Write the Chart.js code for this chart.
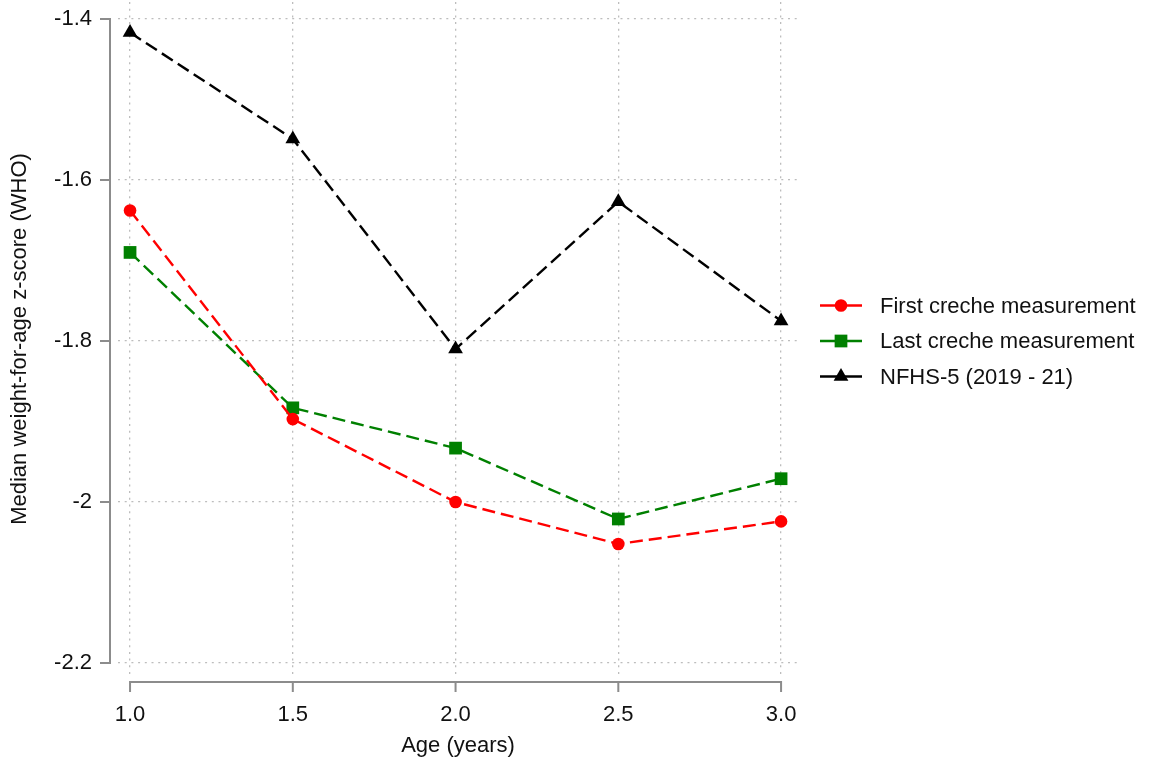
<!DOCTYPE html>
<html>
<head>
<meta charset="utf-8">
<script src="https://cdn.jsdelivr.net/npm/chart.js@4"></script>
<style>
  html, body { margin: 0; padding: 0; background: #fff; }
  #wrap { width: 1149px; height: 761px; }
</style>
</head>
<body>
<div id="wrap"><canvas id="myChart" width="1149" height="761"></canvas></div>
<script>
// data
var ages = [1.0, 1.5, 2.0, 2.5, 3.0];
var firstCreche = [-1.638, -1.897, -2.000, -2.052, -2.024];
var lastCreche = [-1.690, -1.883, -1.933, -2.021, -1.971];
var nfhs5 = [-1.417, -1.549, -1.810, -1.627, -1.775];

var xTicks = [1.0, 1.5, 2.0, 2.5, 3.0];
var xLabels = ['1.0', '1.5', '2.0', '2.5', '3.0'];
var yTicks = [-2.2, -2.0, -1.8, -1.6, -1.4];
var yLabels = ['-2.2', '-2', '-1.8', '-1.6', '-1.4'];

var seriesNames = ['First creche measurement', 'Last creche measurement', 'NFHS-5 (2019 - 21)'];

function pts(vals) {
    return ages.map(function (a, i) { return { x: a, y: vals[i] }; });
}

var FONT = 'Liberation Sans, Arial, sans-serif';
var FSIZE = 22;
var AXIS = '#8c8c8c';

// Stata-like offset axes drawn outside the grid
var offsetAxes = {
    id: 'offsetAxes',
    afterDraw: function (chart) {
        var c = chart.ctx, xs = chart.scales.x, ys = chart.scales.y;
        var ax = chart.chartArea.left - 8;
        var ay = chart.chartArea.bottom + 6;
        c.save();
        c.strokeStyle = AXIS;
        c.lineWidth = 2;
        c.beginPath();
        c.moveTo(ax, ys.getPixelForValue(yTicks[0]));
        c.lineTo(ax, ys.getPixelForValue(yTicks[yTicks.length - 1]));
        yTicks.forEach(function (v) {
            var p = ys.getPixelForValue(v);
            c.moveTo(ax - 10, p);
            c.lineTo(ax + 1, p);
        });
        c.moveTo(xs.getPixelForValue(xTicks[0]), ay);
        c.lineTo(xs.getPixelForValue(xTicks[xTicks.length - 1]), ay);
        xTicks.forEach(function (v) {
            var p = xs.getPixelForValue(v);
            c.moveTo(p, ay - 1);
            c.lineTo(p, ay + 10);
        });
        c.stroke();
        c.restore();
    }
};

// legend with line + marker, to the right of the plot
var lineLegend = {
    id: 'lineLegend',
    afterDraw: function (chart) {
        var c = chart.ctx;
        var x0 = chart.chartArea.right + 22;
        var mid = (chart.chartArea.top + chart.chartArea.bottom) / 2 + 2;
        var gap = 35.5;
        c.save();
        chart.data.datasets.forEach(function (ds, i) {
            var y = mid + (i - 1) * gap;
            c.strokeStyle = ds.borderColor;
            c.lineWidth = 2.4;
            c.setLineDash([]);
            c.beginPath();
            c.moveTo(x0, y);
            c.lineTo(x0 + 42, y);
            c.stroke();
            c.fillStyle = ds.pointBackgroundColor;
            Chart.helpers.drawPoint(c, {
                pointStyle: ds.pointStyle, radius: ds.pointRadius, borderWidth: 0, rotation: 0
            }, x0 + 21, y);
            c.fillStyle = '#111';
            c.font = FSIZE + 'px ' + FONT;
            c.textBaseline = 'middle';
            c.fillText(ds.label, x0 + 60, y + 1);
        });
        c.restore();
    }
};

var ctx = document.getElementById('myChart').getContext('2d');
var myChart = new Chart(ctx, {
    type: 'line',
    data: {
        datasets: [{
            label: seriesNames[0],
            data: pts(firstCreche),
            borderColor: '#ff0000',
            pointBackgroundColor: '#ff0000',
            pointBorderWidth: 0,
            pointStyle: 'circle',
            pointRadius: 6.3,
            borderWidth: 2.4,
            borderDash: [13, 6]
        }, {
            label: seriesNames[1],
            data: pts(lastCreche),
            borderColor: '#008000',
            pointBackgroundColor: '#008000',
            pointBorderWidth: 0,
            pointStyle: 'rect',
            pointRadius: 9,
            borderWidth: 2.4,
            borderDash: [13, 6]
        }, {
            label: seriesNames[2],
            data: pts(nfhs5),
            borderColor: '#000000',
            pointBackgroundColor: '#000000',
            pointBorderWidth: 0,
            pointStyle: 'triangle',
            pointRadius: 8.5,
            borderWidth: 2.4,
            borderDash: [13, 6]
        }]
    },
    options: {
        responsive: false,
        animation: false,
        layout: { autoPadding: false, padding: { top: 2, right: 351, left: 0, bottom: 0 } },
        plugins: {
            legend: { display: false },
            tooltip: { enabled: false }
        },
        scales: {
            x: {
                type: 'linear',
                min: 0.963,
                max: 3.052,
                afterBuildTicks: function (s) { s.ticks = xTicks.map(function (v) { return { value: v }; }); },
                afterFit: function (s) { s.height = 85; },
                ticks: {
                    padding: 0,
                    color: '#111',
                    font: { family: FONT, size: FSIZE },
                    callback: function (v) { return xLabels[xTicks.indexOf(v)]; }
                },
                grid: {
                    color: '#bdbdbd',
                    lineWidth: 1.3,
                    drawTicks: true,
                    tickLength: 26,
                    tickColor: 'rgba(0,0,0,0)'
                },
                border: { display: false, dash: [2, 4.7] },
                title: {
                    display: true,
                    text: 'Age (years)',
                    color: '#111',
                    font: { family: FONT, size: FSIZE },
                    padding: { top: 0, bottom: 2 }
                }
            },
            y: {
                type: 'linear',
                min: -2.216,
                max: -1.379,
                afterBuildTicks: function (s) { s.ticks = yTicks.map(function (v) { return { value: v }; }); },
                afterFit: function (s) { s.width = 118; },
                ticks: {
                    padding: 0,
                    color: '#111',
                    // small lineHeight keeps the top label from pushing the plot down
                    font: { family: FONT, size: FSIZE, lineHeight: 0.15 },
                    callback: function (v) { return yLabels[yTicks.indexOf(v)]; }
                },
                grid: {
                    color: '#bdbdbd',
                    lineWidth: 1.3,
                    drawTicks: true,
                    tickLength: 26,
                    tickColor: 'rgba(0,0,0,0)'
                },
                border: { display: false, dash: [2, 4.7] },
                title: {
                    display: true,
                    text: 'Median weight-for-age z-score (WHO)',
                    color: '#111',
                    font: { family: FONT, size: FSIZE },
                    padding: { top: 7, bottom: 0 }
                }
            }
        }
    },
    plugins: [offsetAxes, lineLegend]
});
</script>
</body>
</html>
